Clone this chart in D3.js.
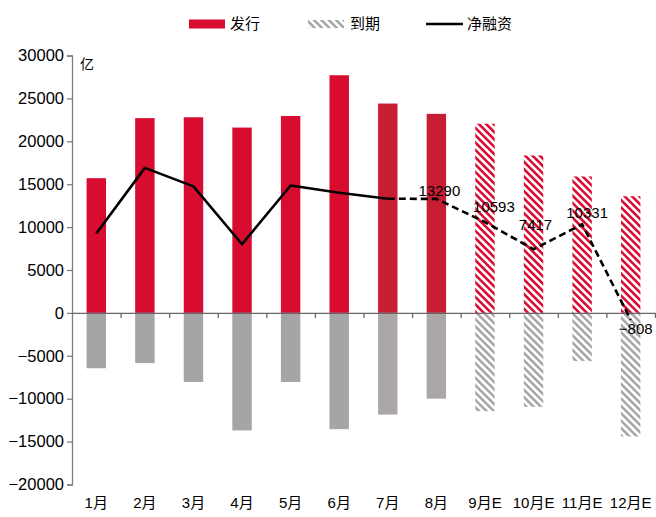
<!DOCTYPE html>
<html>
<head>
<meta charset="utf-8">
<script src="https://cdn.jsdelivr.net/npm/d3@7"></script>
<style>
  body { margin: 0; background: #fff; }
  svg { display: block; font-family: "Liberation Sans", Arial, "Noto Sans CJK SC", sans-serif; }
</style>
</head>
<body>
<div id="chart"></div>
<script>
// months, last four are estimates
const months = ["1月", "2月", "3月", "4月", "5月", "6月", "7月", "8月", "9月E", "10月E", "11月E", "12月E"];
// 发行 (issuance), 亿
const issue = [15700, 22700, 22800, 21600, 22950, 27700, 24400, 23200, 22050, 18350, 15900, 13600];
// 到期 (maturity), 亿
const mature = [-6450, -5850, -8050, -13700, -8050, -13550, -11850, -10000, -11450, -10950, -5600, -14400];
// 净融资 (net financing), 亿
const net = [9250, 16900, 14750, 8000, 14850, 14000, 13300, 13290, 10593, 7417, 10331, -808];
// which bars are actual / recent / estimate
const kind = ["a", "a", "a", "a", "a", "a", "b", "b", "e", "e", "e", "e"];
const yTicks = [-20000, -15000, -10000, -5000, 0, 5000, 10000, 15000, 20000, 25000, 30000];
const labelled = ["8月", "9月E", "10月E", "11月E", "12月E"];

const width = 656, height = 517;
const margin = { left: 72, right: 655, top: 55.5, bottom: 484.5 };

const svg = d3.select("#chart").append("svg")
  .attr("width", width)
  .attr("height", height);

const defs = svg.append("defs");
const hatch = (id, color) => {
  const p = defs.append("pattern")
    .attr("id", id)
    .attr("patternUnits", "userSpaceOnUse")
    .attr("width", 5.2)
    .attr("height", 10)
    .attr("patternTransform", "rotate(-45)");
  p.append("rect")
    .attr("x", 0).attr("y", 0)
    .attr("width", 2.6).attr("height", 10)
    .attr("fill", color);
};
hatch("hatchRed", "#dc0d35");
hatch("hatchGray", "#a8a8a8");

const issueFill = { a: "#d80c2f", b: "#c81e33", e: "url(#hatchRed)" };
const matureFill = { a: "#a5a5a5", b: "#aca7a7", e: "url(#hatchGray)" };

const xScale = d3.scaleBand()
  .domain(months)
  .range([margin.left, margin.right])
  .paddingInner(0.6)
  .paddingOuter(0.3);

const yScale = d3.scaleLinear()
  .domain([-20000, 30000])
  .range([margin.bottom, margin.top]);

// bars
svg.append("g")
  .selectAll("rect")
  .data(months)
  .join("rect")
    .attr("x", d => xScale(d))
    .attr("y", (d, i) => yScale(issue[i]))
    .attr("width", xScale.bandwidth())
    .attr("height", (d, i) => yScale(0) - yScale(issue[i]))
    .attr("fill", (d, i) => issueFill[kind[i]]);

svg.append("g")
  .selectAll("rect")
  .data(months)
  .join("rect")
    .attr("x", d => xScale(d))
    .attr("y", yScale(0))
    .attr("width", xScale.bandwidth())
    .attr("height", (d, i) => yScale(mature[i]) - yScale(0))
    .attr("fill", (d, i) => matureFill[kind[i]]);

// left axis
const leftAxis = d3.axisLeft(yScale)
  .tickValues(yTicks)
  .tickFormat(d => d < 0 ? "\u2212" + Math.abs(d) : d)
  .tickSize(5)
  .tickSizeOuter(5)
  .tickPadding(3);

const gy = svg.append("g")
  .attr("transform", `translate(${margin.left},0)`)
  .call(leftAxis);
gy.selectAll("path, line").attr("stroke", "#7f7f7f").attr("stroke-width", 1.3);
gy.selectAll("text").attr("font-size", 16.5).attr("fill", "#000");

// zero line with ticks between categories
const boundaries = d3.range(1, months.length + 1).map(i => margin.left + i * xScale.step());
const bScale = d3.scaleLinear().domain([margin.left, margin.right]).range([margin.left, margin.right]);
const zeroAxis = d3.axisBottom(bScale)
  .tickValues(boundaries)
  .tickFormat("")
  .tickSize(5)
  .tickSizeOuter(0);
const gz = svg.append("g")
  .attr("transform", `translate(0,${yScale(0)})`)
  .call(zeroAxis);
gz.selectAll("path, line").attr("stroke", "#666").attr("stroke-width", 1.3);

// category labels
const bottomAxis = d3.axisBottom(xScale).tickSize(0).tickPadding(13);
const gx = svg.append("g")
  .attr("transform", `translate(0,${margin.bottom})`)
  .call(bottomAxis);
gx.select(".domain").remove();
gx.selectAll("text").attr("font-size", 15).attr("fill", "#000")
  .attr("font-family", "'Liberation Sans', 'Noto Sans CJK SC', sans-serif");

// net financing line: solid for actual, dashed from July on
const line = d3.line()
  .x(d => xScale(d.m) + xScale.bandwidth() / 2)
  .y(d => yScale(d.v));
const pts = months.map((m, i) => ({ m, v: net[i] }));
const split = months.indexOf("7月");

svg.append("path")
  .datum(pts.slice(0, split + 1))
  .attr("d", line)
  .attr("fill", "none")
  .attr("stroke", "#000")
  .attr("stroke-width", 2.6)
  .attr("stroke-linejoin", "round");

svg.append("path")
  .datum(pts.slice(split))
  .attr("d", line)
  .attr("fill", "none")
  .attr("stroke", "#000")
  .attr("stroke-width", 2.6)
  .attr("stroke-dasharray", "7,4");

// value labels
const labelShift = [[3, -8], [9, -15], [2, -25], [5, -12], [5, 9]];
svg.append("g")
  .selectAll("text")
  .data(pts.filter(d => labelled.includes(d.m)))
  .join("text")
    .attr("x", (d, i) => xScale(d.m) + xScale.bandwidth() / 2 + labelShift[i][0])
    .attr("y", (d, i) => yScale(d.v) + labelShift[i][1])
    .attr("dy", "0.35em")
    .attr("text-anchor", "middle")
    .attr("font-size", 15)
    .attr("fill", "#000")
    .text(d => d.v < 0 ? "\u2212" + Math.abs(d.v) : d.v);

// unit
svg.append("text")
  .attr("x", margin.left + 8)
  .attr("y", 69)
  .attr("font-size", 14)
  .attr("font-family", "'Noto Sans CJK SC', sans-serif")
  .text("亿");

// legend
const legend = svg.append("g")
  .attr("transform", "translate(0,24)")
  .attr("font-family", "'Noto Sans CJK SC', sans-serif")
  .attr("font-size", 15);

legend.append("rect")
  .attr("x", 189).attr("y", -4.5)
  .attr("width", 36).attr("height", 9)
  .attr("fill", "#d80c2f");
legend.append("text").attr("x", 230).attr("dy", "0.35em").text("发行");

legend.append("rect")
  .attr("x", 308).attr("y", -4)
  .attr("width", 36).attr("height", 8)
  .attr("fill", "url(#hatchGray)");
legend.append("text").attr("x", 350).attr("dy", "0.35em").text("到期");

legend.append("line")
  .attr("x1", 426).attr("x2", 463)
  .attr("stroke", "#000").attr("stroke-width", 2.6);
legend.append("text").attr("x", 467).attr("dy", "0.35em").text("净融资");
</script>
</body>
</html>
